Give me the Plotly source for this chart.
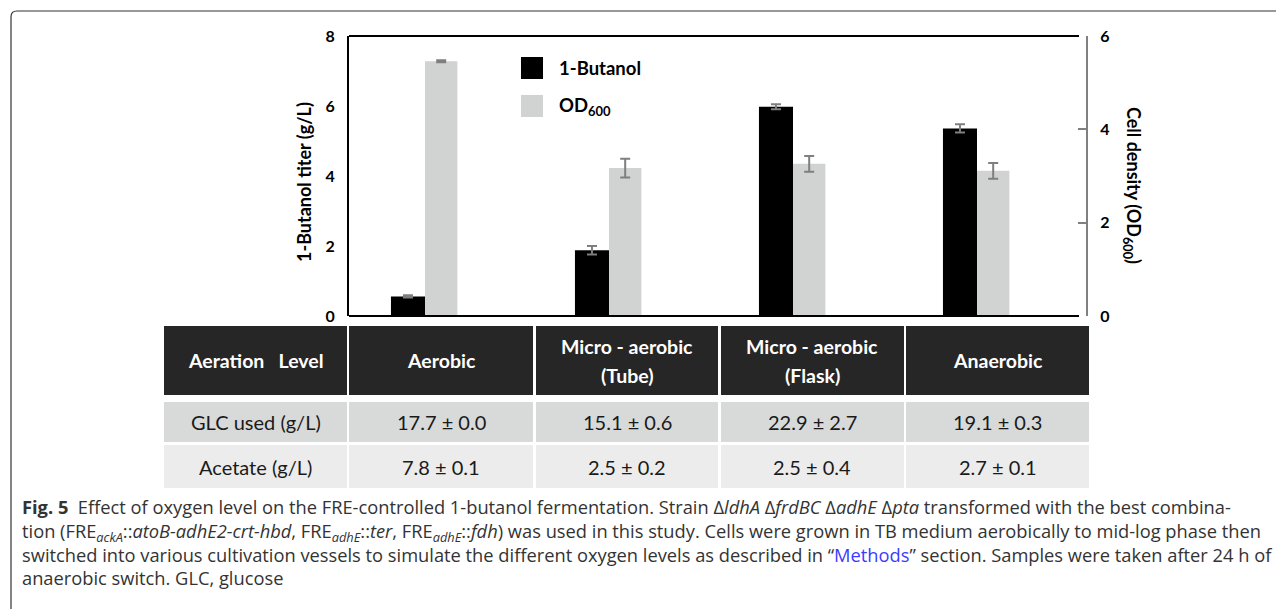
import plotly.graph_objects as go

# ---------------- data ----------------
categories = ["Aerobic", "Micro - aerobic (Tube)", "Micro - aerobic (Flask)", "Anaerobic"]
butanol = [0.56, 1.88, 5.98, 5.36]
butanol_err = [0.03, 0.12, 0.07, 0.12]
od600 = [5.46, 3.17, 3.26, 3.11]
od600_err = [0.02, 0.20, 0.17, 0.17]

left_ticks = [0, 2, 4, 6, 8]
right_ticks = [0, 2, 4, 6]

table_header = ["Aeration&nbsp;&nbsp; Level", "Aerobic", "Micro - aerobic<br>(Tube)",
                "Micro - aerobic<br>(Flask)", "Anaerobic"]
row_glc = ["GLC used (g/L)", "17.7 ± 0.0", "15.1 ± 0.6", "22.9 ± 2.7", "19.1 ± 0.3"]
row_acetate = ["Acetate (g/L)", "7.8 ± 0.1", "2.5 ± 0.2", "2.5 ± 0.4", "2.7 ± 0.1"]

caption_lines = [
    "<b>Fig. 5</b>  Effect of oxygen level on the FRE-controlled 1-butanol fermentation. Strain Δ<i>ldhA</i> Δ<i>frdBC</i> Δ<i>adhE</i> Δ<i>pta</i> transformed with the best combina-",
    "tion (FRE<sub><i>ackA</i></sub>::<i>atoB-adhE2-crt-hbd</i>, FRE<sub><i>adhE</i></sub>::<i>ter</i>, FRE<sub><i>adhE</i></sub>::<i>fdh</i>) was used in this study. Cells were grown in TB medium aerobically to mid-log phase then",
    "switched into various cultivation vessels to simulate the different oxygen levels as described in “<span style='color:#3b3bff'>Methods</span>” section. Samples were taken after 24 h of",
    "anaerobic switch. GLC, glucose",
]

# ---------------- layout helpers ----------------
W, H = 1284, 609
OFF = 8  # page body margin


def px(x):
    return (x - OFF) / W


def py(y):
    return 1 - (y - OFF) / H


def note(x, y, text, size, color="#000", family="Lato", xanchor="center", angle=0,
         yanchor="middle"):
    return dict(x=px(x), y=py(y), xref="paper", yref="paper", xanchor=xanchor,
                yanchor=yanchor, text=text, textangle=angle, showarrow=False,
                font=dict(family=family, size=size, color=color))


PLOT_L, PLOT_R, PLOT_T, PLOT_B = 349, 1086, 36, 316
CAT_X0, CAT_STEP = 425, 184
xr = [(PLOT_L - CAT_X0) / CAT_STEP, (PLOT_R - CAT_X0) / CAT_STEP]
xpos = list(range(len(categories)))

FONT = "Lato"
BAR_W = 0.185

fig = go.Figure()
fig.add_trace(go.Bar(
    x=xpos, y=butanol, name="1-Butanol", width=BAR_W, offset=-BAR_W,
    marker=dict(color="#000000", line=dict(width=0)),
    error_y=dict(type="data", array=butanol_err, color="#7f7f7f", thickness=2, width=5),
    yaxis="y", showlegend=False, hovertext=categories,
))
fig.add_trace(go.Bar(
    x=xpos, y=od600, name="OD600", width=0.176, offset=0,
    marker=dict(color="#d1d3d3", line=dict(width=0)),
    error_y=dict(type="data", array=od600_err, color="#7f7f7f", thickness=2, width=5),
    yaxis="y2", showlegend=False, hovertext=categories,
))

fig.update_layout(
    width=W, height=H,
    margin=dict(l=0, r=0, t=0, b=0, autoexpand=False),
    paper_bgcolor="white", plot_bgcolor="white",
    barmode="overlay",
    showlegend=False,
    xaxis=dict(domain=[px(PLOT_L), px(PLOT_R)], range=xr, showticklabels=False,
               showgrid=False, zeroline=False, ticks="", automargin=False),
    yaxis=dict(domain=[py(PLOT_B), py(PLOT_T)], range=[0, 8], tickvals=left_ticks,
               showgrid=False, zeroline=False, showline=True, linecolor="#000",
               linewidth=2, ticks="", ticklabelstandoff=9, automargin=False,
               tickfont=dict(family=FONT, size=16, color="#000", weight="bold")),
    yaxis2=dict(overlaying="y", side="right", range=[0, 6], tickvals=right_ticks,
                showgrid=False, zeroline=False, showline=True, linecolor="#808080",
                linewidth=2, ticks="inside", ticklen=8, tickwidth=2, tickcolor="#808080",
                ticklabelstandoff=9, automargin=False,
                tickfont=dict(family=FONT, size=16, color="#000", weight="bold")),
)

shapes = []
annotations = []

# top & bottom border lines of the plot
for yy in (PLOT_T, PLOT_B):
    shapes.append(dict(type="line", xref="paper", yref="paper",
                       x0=px(PLOT_L), x1=px(1079), y0=py(yy), y1=py(yy),
                       line=dict(color="#000", width=2)))

# axis titles
annotations.append(note(304, 182, "<b>1-Butanol titer (g/L)</b>", 18, angle=-90))
annotations.append(note(1133, 185, "<b>Cell density (OD<sub>600</sub>)</b>", 18, angle=90))

# legend
legend_items = [("1-Butanol", "#000000", 68), ("OD<sub>600</sub>", "#d1d3d3", 106)]
for label, col, yc in legend_items:
    shapes.append(dict(type="rect", xref="paper", yref="paper",
                       x0=px(521), x1=px(543), y0=py(yc - 11), y1=py(yc + 11),
                       fillcolor=col, line=dict(width=0)))
    annotations.append(note(557, yc, f"<b>{label}</b>", 18.5, xanchor="left"))

# table
col_edges = [(164, 347), (349, 533), (536, 718), (721, 904), (906, 1089)]
rows = [
    (table_header, 326, 395, "#262626", "#ffffff", True),
    (row_glc, 402, 442, "#d8d9d9", "#1a1a1a", False),
    (row_acetate, 445, 488, "#ececec", "#1a1a1a", False),
]
for cells, y0, y1, bg, fg, bold in rows:
    for (x0, x1), txt in zip(col_edges, cells):
        shapes.append(dict(type="rect", xref="paper", yref="paper",
                           x0=px(x0), x1=px(x1), y0=py(y1), y1=py(y0),
                           fillcolor=bg, line=dict(width=0), layer="below"))
        parts = txt.split("<br>")
        n = len(parts)
        for i, part in enumerate(parts):
            yc = (y0 + y1) / 2 + (i - (n - 1) / 2) * 29
            annotations.append(note((x0 + x1) / 2, yc, f"<b>{part}</b>" if bold else part,
                                    19.5 if bold else 20, color=fg))

# caption (one text block so the line spacing stays even)
caption = dict(note(20, 492, "<br>".join(caption_lines), 18.3, color="#333",
                    family="Open Sans", xanchor="left", yanchor="top"), align="left")
annotations.append(caption)

# outer frame (rounded top-left corner)
fx, fy, r = 11, 11, 6
shapes.append(dict(type="path", xref="paper", yref="paper",
                   path=f"M {px(W + 20)},{py(fy)} L {px(fx + r)},{py(fy)} "
                        f"Q {px(fx)},{py(fy)} {px(fx)},{py(fy + r)} L {px(fx)},{py(H + 20)}",
                   line=dict(color="#333", width=1.2)))

fig.update_layout(shapes=shapes, annotations=annotations)
fig.write_html("out.html")
